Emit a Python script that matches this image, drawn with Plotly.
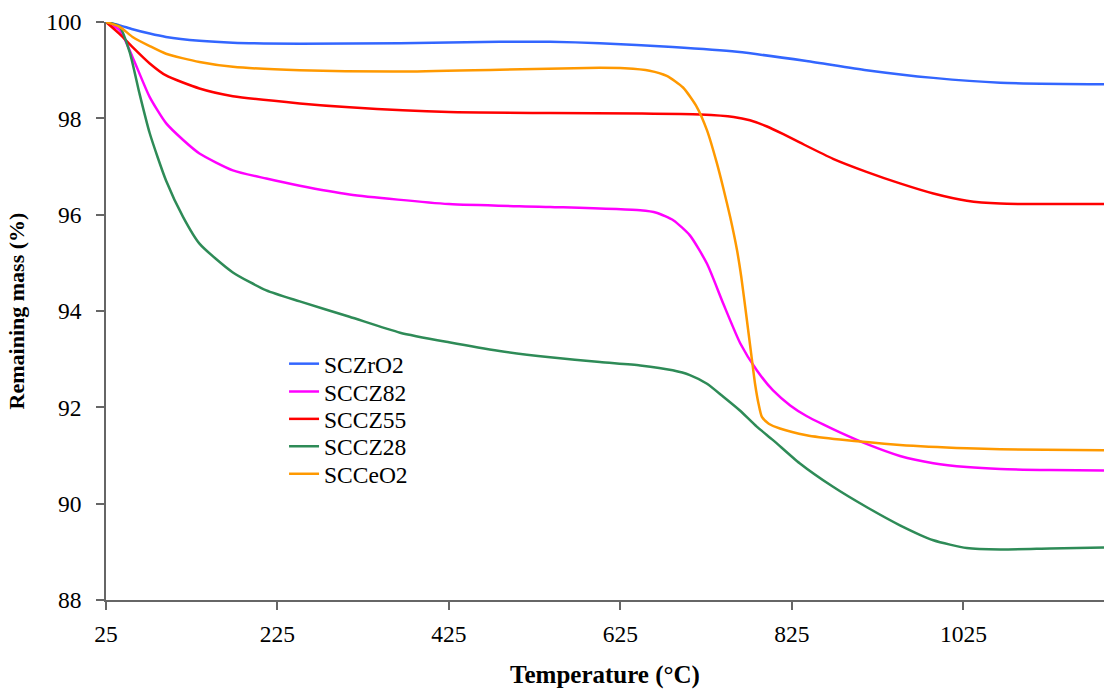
import plotly.graph_objects as go

# --- data ---
t_sczro2 = [25, 41, 56, 76, 95, 134, 173, 251, 368, 484, 543, 601, 686, 761, 842, 912, 990, 1068, 1189]
sczro2 = [100, 99.93, 99.85, 99.76, 99.69, 99.61, 99.57, 99.55, 99.56, 99.59, 99.59, 99.56,
          99.48, 99.38, 99.19, 99.00, 98.84, 98.74, 98.71]

t_scccz82 = [25, 41, 56, 76, 95, 115, 134, 173, 212, 251, 309, 425, 543, 648, 667, 687, 706,
             726, 745, 765, 784, 803, 823, 842, 862, 881, 912, 951, 990, 1029, 1068, 1126, 1189]
scccz82 = [100, 99.83, 99.27, 98.44, 97.90, 97.55, 97.27, 96.92, 96.75, 96.60, 96.42, 96.22,
           96.16, 96.09, 96.04, 95.88, 95.57, 94.98, 94.15, 93.32, 92.77, 92.35, 92.04, 91.82,
           91.64, 91.48, 91.24, 90.99, 90.84, 90.76, 90.72, 90.70, 90.69]

t_scccz55 = [25, 41, 56, 76, 95, 134, 173, 251, 309, 425, 543, 648, 718, 757, 776, 796, 815,
             834, 873, 912, 951, 990, 1029, 1068, 1126, 1189]
scccz55 = [100, 99.75, 99.48, 99.14, 98.89, 98.62, 98.46, 98.31, 98.23, 98.13, 98.11, 98.10,
           98.08, 98.03, 97.96, 97.83, 97.67, 97.50, 97.16, 96.89, 96.65, 96.44, 96.29, 96.23,
           96.22, 96.22]

t_scccz28 = [25, 41, 53, 64, 76, 95, 115, 134, 173, 212, 251, 309, 368, 425, 484, 543, 601,
             648, 686, 706, 726, 745, 764, 784, 803, 834, 873, 912, 951, 990, 1029, 1068, 1126, 1189]
scccz28 = [100, 99.90, 99.35, 98.52, 97.69, 96.71, 95.95, 95.40, 94.80, 94.43, 94.20, 93.88,
           93.55, 93.35, 93.17, 93.04, 92.94, 92.87, 92.77, 92.67, 92.49, 92.22, 91.94, 91.60,
           91.32, 90.84, 90.35, 89.93, 89.55, 89.24, 89.08, 89.05, 89.07, 89.09]

t_scceo2 = [25, 41, 56, 76, 95, 134, 173, 251, 368, 484, 601, 630, 659, 679, 698, 714, 726,
            737, 745, 753, 761, 766, 772, 777, 782, 786, 790, 798, 811, 842, 881, 951, 1029,
            1068, 1189]
scceo2 = [100, 99.90, 99.69, 99.50, 99.34, 99.17, 99.07, 99.00, 98.97, 99.01, 99.05, 99.04,
          98.99, 98.88, 98.64, 98.24, 97.75, 97.10, 96.55, 95.95, 95.26, 94.70, 93.88, 93.18,
          92.49, 92.08, 91.80, 91.66, 91.56, 91.42, 91.33, 91.22, 91.15, 91.13, 91.11]

series_names = ["SCZrO2", "SCCZ82", "SCCZ55", "SCCZ28", "SCCeO2"]
series_temps = [t_sczro2, t_scccz82, t_scccz55, t_scccz28, t_scceo2]
series_values = [sczro2, scccz82, scccz55, scccz28, scceo2]
series_colors = ["#3366FF", "#FF00FF", "#FF0000", "#2E8B57", "#FF9900"]

x_ticks = [25, 225, 425, 625, 825, 1025]
y_ticks = [88, 90, 92, 94, 96, 98, 100]

FONT = "Liberation Serif, Times New Roman, serif"

fig = go.Figure()
legend_ids = ["legend", "legend2", "legend3", "legend4", "legend5"]
for name, ts, vals, col, lg in zip(series_names, series_temps, series_values, series_colors, legend_ids):
    fig.add_trace(go.Scatter(x=ts, y=vals, name=name, mode="lines", legend=lg,
                             line=dict(color=col, width=2.5, shape="spline", smoothing=0.6)))

axis_common = dict(showline=True, linecolor="#666666", linewidth=1.5, ticks="outside",
                   ticklen=8, tickwidth=1.5, tickcolor="#666666", showgrid=False,
                   zeroline=False, automargin=False,
                   tickfont=dict(family=FONT, size=23.5, color="black"))

# legend rows (one small legend per series so the row pitch matches the reference)
row_y = [0.4085, 0.3605, 0.3130, 0.2655, 0.2180]
legends = {}
for lg, ry in zip(legend_ids, row_y):
    legends[lg] = dict(x=0.1784, y=ry, xanchor="left", yanchor="middle",
                       bgcolor="rgba(0,0,0,0)", borderwidth=0,
                       font=dict(family=FONT, size=23.5, color="black"),
                       itemwidth=30)

fig.update_layout(
    width=1104, height=689,
    margin=dict(l=106, r=0, t=22, b=89),
    paper_bgcolor="white", plot_bgcolor="white",
    font=dict(family=FONT, size=23.5, color="black"),
    xaxis=dict(range=[25, 1189], tickvals=x_ticks, ticktext=[str(v) for v in x_ticks],
               title=dict(text="<b>Temperature (°C)</b>", standoff=20,
                          font=dict(family=FONT, size=25, color="black")),
               ticklabelstandoff=4, **axis_common),
    yaxis=dict(range=[88, 100], tickvals=y_ticks, ticktext=[str(v) for v in y_ticks],
               title=dict(text="<b>Remaining mass (%)</b>", standoff=16,
                          font=dict(family=FONT, size=22, color="black")),
               ticklabelstandoff=10, **axis_common),
    showlegend=True,
    **legends,
)

fig.write_html("out.html", config={"displayModeBar": False},
               post_script="document.body.style.margin='0';document.body.style.overflow='hidden';")
